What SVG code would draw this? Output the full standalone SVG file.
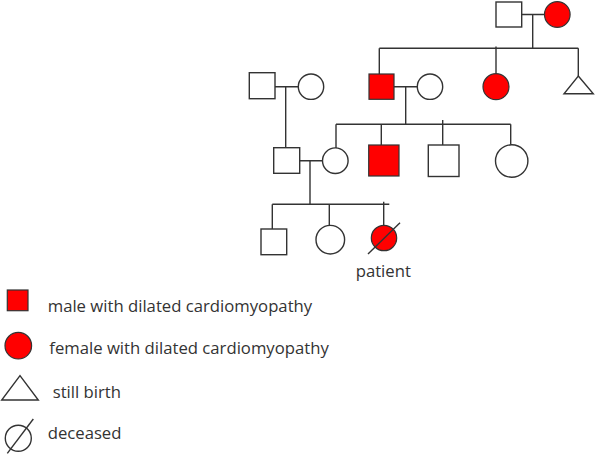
<svg xmlns="http://www.w3.org/2000/svg" width="595" height="456" viewBox="0 0 595 456">
<style>
.ln{stroke:#333;stroke-width:1.4;fill:none}
.w{fill:#fff;stroke:#333;stroke-width:1.4}
.r{fill:#f00;stroke:#333;stroke-width:1.2}
.t{font-family:"Open Sans","Noto Sans",sans-serif;font-size:16.7px;fill:#333}
</style>
<rect width="595" height="456" fill="#fff"/>
<g id="connectors" class="ln">
<path d="M522 14.5H544M532.7 14.5V48.3M379.3 48.3H578.3M379.3 48.3V74M496 46.5V73.5M578.3 48.3V76"/>
<path d="M275 86.7H298.3M285.7 86.7V147.7"/>
<path d="M394 86.7H417.3M405.7 86.7V124.3M336 124.3H510.7M336 124.3V148M381.3 124.3V145M442.7 120V145M510.7 124.3V144.8"/>
<path d="M300 160.7H322.5M310 160.7V204.3M272.3 204.3H389.3M272.3 204.3V229M329.3 204.3V225.5M383.7 201.7V225.3"/>
</g>
<g id="gen1-father"><rect class="w" x="496" y="2" width="25.7" height="25"/></g>
<g id="gen1-mother"><circle class="r" cx="557.3" cy="14.5" r="12.8"/></g>
<g id="gen2-left-man"><rect class="w" x="249.3" y="72.7" width="25.7" height="26"/></g>
<g id="gen2-left-woman"><circle class="w" cx="311" cy="86.7" r="12.7"/></g>
<g id="gen2-affected-man"><rect class="r" x="369" y="74" width="25" height="25.3"/></g>
<g id="gen2-wife"><circle class="w" cx="430" cy="86.7" r="12.7"/></g>
<g id="gen2-affected-woman"><circle class="r" cx="496" cy="86.7" r="13"/></g>
<g id="gen2-stillbirth"><polygon class="w" points="578.3,76 593.3,93.7 564,93.7"/></g>
<g id="gen3-man"><rect class="w" x="273.7" y="147.7" width="26" height="25.6"/></g>
<g id="gen3-woman"><circle class="w" cx="335.3" cy="160.7" r="12.8"/></g>
<g id="gen3-affected-man"><rect class="r" x="368.7" y="145" width="30.3" height="31"/></g>
<g id="gen3-man2"><rect class="w" x="428.3" y="145" width="30.7" height="31.5"/></g>
<g id="gen3-woman2"><circle class="w" cx="511.7" cy="161" r="16.2"/></g>
<g id="gen4-man"><rect class="w" x="261" y="229" width="25.7" height="25.7"/></g>
<g id="gen4-woman"><circle class="w" cx="330.3" cy="239.7" r="14.3"/></g>
<g id="patient">
<circle class="r" cx="384" cy="238" r="12.7"/>
<line class="ln" x1="368" y1="254" x2="400" y2="222.7"/>
<text class="t" x="355.7" y="276.7">patient</text>
</g>
<g id="legend">
<rect class="r" x="7.3" y="290" width="20.7" height="20.7"/>
<text class="t" x="47.7" y="312">male with dilated cardiomyopathy</text>
<circle class="r" cx="18.3" cy="345.7" r="13.3"/>
<text class="t" x="49.3" y="354">female with dilated cardiomyopathy</text>
<polygon class="w" points="20,375.7 38.3,400 1.7,400"/>
<text class="t" x="52.7" y="398.3">still birth</text>
<circle class="w" cx="18.3" cy="438.3" r="13"/>
<line class="ln" x1="7.3" y1="453.3" x2="33.3" y2="419"/>
<text class="t" x="47.7" y="439.3">deceased</text>
</g>
</svg>
